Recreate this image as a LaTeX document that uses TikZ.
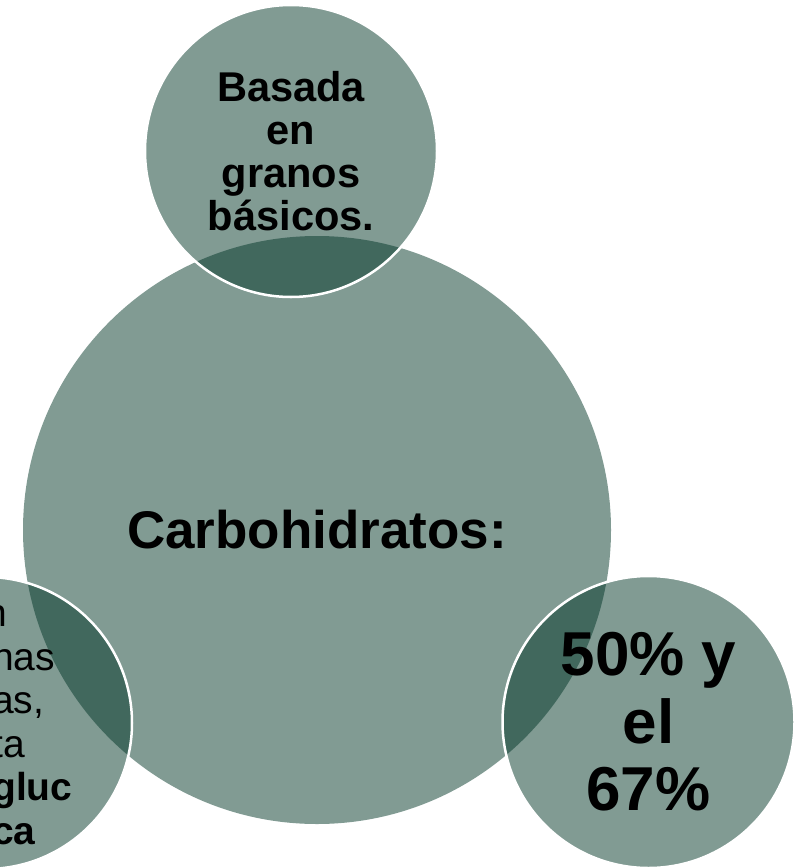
\documentclass[tikz,border=0pt]{standalone}
\usepackage{fontspec}
\setmainfont{Liberation Sans}
\definecolor{venn}{RGB}{3,55,40}

\begin{document}
\begin{tikzpicture}[
 x=1pt, y=-1pt,
 disc/.style={circle,fill=venn,fill opacity=0.5,text opacity=1,inner sep=0pt,align=center},
 big/.style={disc,minimum size=588pt,font=\fontsize{53}{60}\selectfont\bfseries},
 small/.style={disc,draw=white,draw opacity=1,line width=2.5pt,minimum size=292pt}
]
\useasboundingbox (0,0) rectangle (805,867);
\clip (0,0) rectangle (805,867);
\node (carbs) [big] at (317,530) {Carbohidratos:};
\node (granos) [small,font={\fontsize{41.6}{43}\selectfont\bfseries}] at (291,151) {Basada\\en\\granos\\básicos.};
\node (porcentaje) [small,font={\fontsize{62}{67.5}\selectfont\bfseries}] at (648.5,722) {50\% y\\el\\67\%};
\node (fuente) [small] at (-14,723) {};
\node (fuente-text) [anchor=west,inner sep=0pt,align=left,font={\fontsize{39}{43.5}\selectfont}] at (-8,725) {\hspace*{-7pt}n\\nas\\as,\\ta\\\textbf{gluc}\\\textbf{ca}};
\end{tikzpicture}
\end{document}
